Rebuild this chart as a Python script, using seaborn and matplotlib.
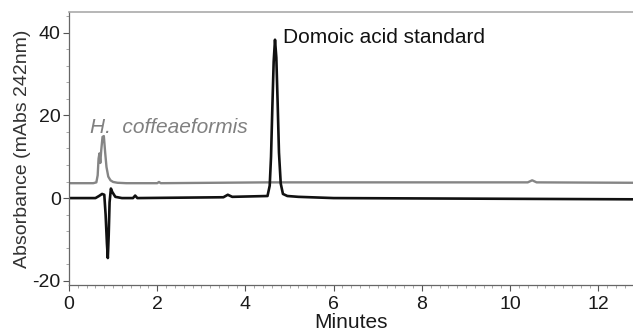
import numpy as np
import pandas as pd
import matplotlib
matplotlib.use('Agg')
import matplotlib.pyplot as plt
from matplotlib.ticker import MultipleLocator
import seaborn as sns

# H. coffeaeformis trace
gray_t = [0.0, 0.55, 0.62, 0.65, 0.67, 0.69, 0.71, 0.73, 0.76, 0.79, 0.82, 0.85,
          0.89, 0.94, 1.00, 1.10, 1.30, 2.00, 2.04, 2.08, 4.50, 10.40, 10.50,
          10.60, 12.80]
gray_a = [3.6, 3.6, 3.8, 5.5, 9.5, 10.8, 8.5, 11.5, 14.8, 15.0, 11.0, 7.5,
          5.2, 4.3, 3.9, 3.7, 3.6, 3.6, 3.9, 3.6, 3.8, 3.8, 4.3, 3.8, 3.7]

# domoic acid standard trace
black_t = [0.0, 0.60, 0.68, 0.75, 0.80, 0.83, 0.86, 0.88, 0.90, 0.92, 0.95,
           0.98, 1.05, 1.20, 1.45, 1.50, 1.55, 3.50, 3.60, 3.70, 4.50, 4.55,
           4.58, 4.61, 4.64, 4.67, 4.70, 4.73, 4.76, 4.80, 4.85, 4.95, 5.20,
           6.00, 12.80]
black_a = [0.0, 0.0, 0.5, 1.0, 0.8, -4.0, -11.0, -14.5, -9.0, -1.0, 2.3,
           1.5, 0.3, 0.0, 0.0, 0.6, 0.0, 0.2, 0.8, 0.3, 0.5, 3.0,
           10.0, 22.0, 33.0, 38.3, 34.0, 23.0, 11.0, 3.5, 1.0, 0.5, 0.3,
           0.0, -0.3]

sns.set_style('ticks')
plt.rcParams['font.family'] = ['Liberation Sans', 'DejaVu Sans']
plt.rcParams['axes.unicode_minus'] = False

gray_df = pd.DataFrame({'Minutes': gray_t, 'Absorbance': gray_a})
black_df = pd.DataFrame({'Minutes': black_t, 'Absorbance': black_a})

fig = plt.figure(figsize=(6.33, 3.34), dpi=100)
ax = fig.add_axes([0.109, 0.147, 0.892, 0.817])

sns.lineplot(data=gray_df, x='Minutes', y='Absorbance', ax=ax,
             color='#858585', linewidth=1.7)
sns.lineplot(data=black_df, x='Minutes', y='Absorbance', ax=ax,
             color='#111111', linewidth=1.9)

ax.set_xlim(0, 12.8)
ax.set_ylim(-21, 45)
ax.xaxis.set_major_locator(MultipleLocator(2))
ax.xaxis.set_minor_locator(MultipleLocator(0.2))
ax.yaxis.set_major_locator(MultipleLocator(20))
ax.yaxis.set_minor_locator(MultipleLocator(4))
ax.tick_params(which='major', length=4, color='#555555', labelsize=14,
               labelcolor='#1a1a1a')
ax.tick_params(axis='x', which='major', pad=4)
ax.tick_params(axis='y', which='major', pad=2)
ax.tick_params(which='minor', length=2, color='#999999')

ax.set_xlabel('Minutes', fontsize=15, labelpad=0, color='#1a1a1a')
ax.set_ylabel('Absorbance (mAbs 242nm)', fontsize=14, color='#333333', labelpad=1)

for side in ['left', 'bottom']:
    ax.spines[side].set_color('#666666')
    ax.spines[side].set_linewidth(0.9)
ax.spines['top'].set_visible(True)
ax.spines['top'].set_color('#aaaaaa')
ax.spines['top'].set_linewidth(1.2)
ax.spines['right'].set_visible(False)

ax.text(4.85, 38.8, 'Domoic acid standard', fontsize=15, color='#111111',
        va='center', ha='left')
ax.text(0.48, 17.0, 'H.  coffeaeformis', fontsize=15, color='#808080',
        style='italic', va='center', ha='left')

fig.savefig('out.png', dpi=100)
